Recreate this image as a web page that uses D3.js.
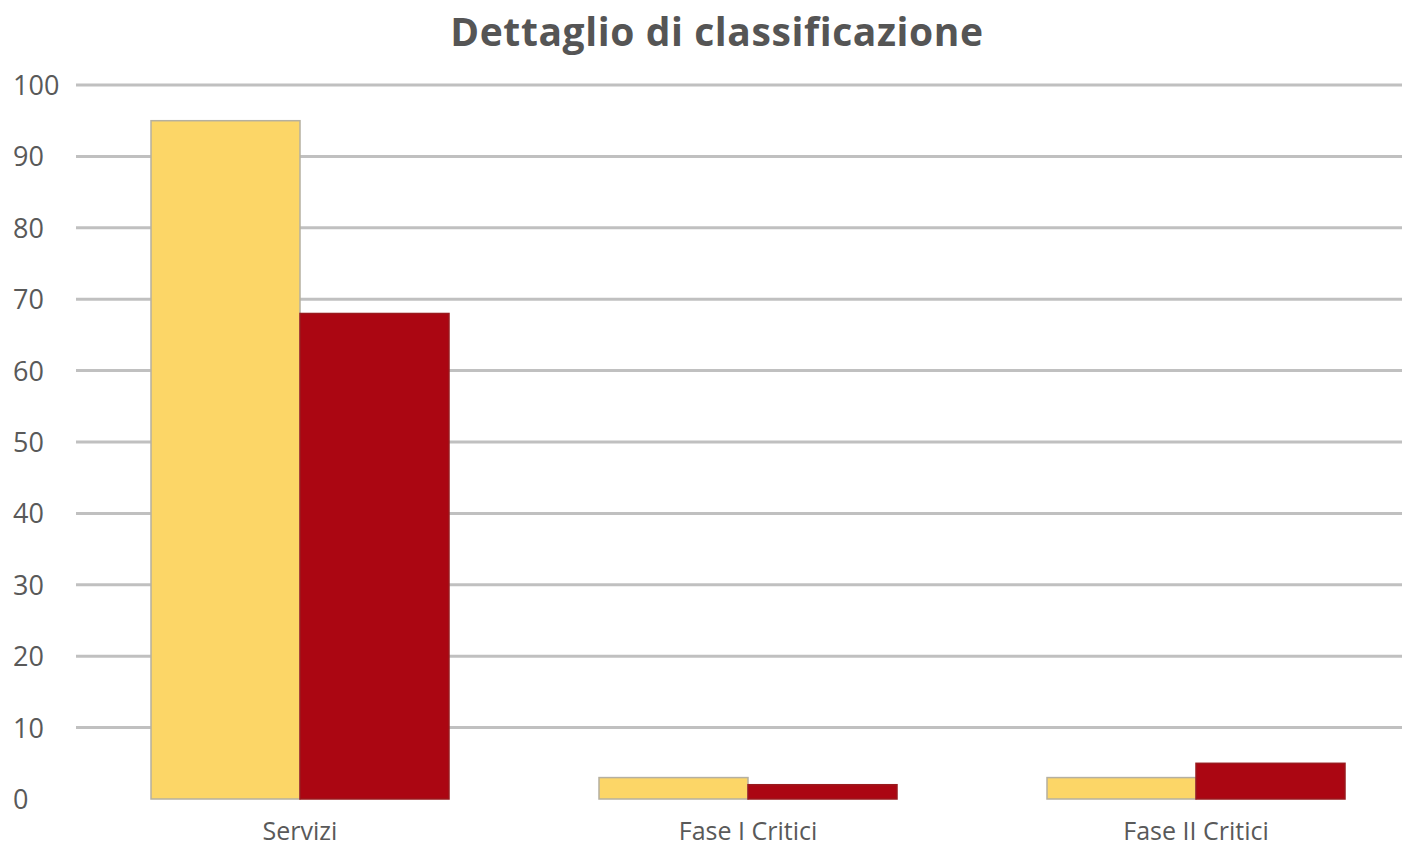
<!DOCTYPE html>
<html><head><meta charset="utf-8">
<script src="https://cdn.jsdelivr.net/npm/d3@7"></script>
<style>html,body{margin:0;padding:0;background:#fff;overflow:hidden}</style>
</head><body>
<svg id="c" width="1402" height="848"></svg>
<script>
const title = "Dettaglio di classificazione";
const categories = ["Servizi", "Fase I Critici", "Fase II Critici"];
const seriesNames = ["Serie 1", "Serie 2"];
const series1 = [95, 3, 3];
const series2 = [68, 2, 5];
const yTicks = [0, 10, 20, 30, 40, 50, 60, 70, 80, 90, 100];
const colors = ["#fcd667", "#ab0612"];

const svg = d3.select("#c");
const font = "'Open Sans', 'Liberation Sans', sans-serif";
const y = d3.scaleLinear().domain([0, 100]).range([799, 85]);
const x0 = d3.scaleBand().domain(categories).range([76, 1420]).padding(0);
const x1 = d3.scaleBand().domain(seriesNames).range([75, x0.bandwidth() - 75]).padding(0);

svg.append("text").attr("x", 717).attr("y", 46).attr("text-anchor", "middle")
  .attr("font-family", font).attr("font-weight", "bold").attr("font-size", 39)
  .attr("letter-spacing", 0.6)
  .attr("fill", "#555").text(title);

svg.append("g").selectAll("line").data(yTicks.filter(d => d > 0)).join("line")
  .attr("x1", 76).attr("x2", 1402).attr("y1", d => y(d)).attr("y2", d => y(d))
  .attr("stroke", "#c0c0c0").attr("stroke-width", 3);

svg.append("g").selectAll("text").data(yTicks).join("text")
  .attr("x", 13).attr("y", d => y(d) + 10).attr("font-family", font).attr("font-size", 27)
  .attr("fill", "#595959").text(d => d);

const data = categories.map((c, i) => ({c, vals: [series1[i], series2[i]]}));
const g = svg.append("g").selectAll("g").data(data).join("g")
  .attr("transform", d => `translate(${x0(d.c)},0)`);
g.selectAll("rect").data(d => d.vals.map((v, j) => ({v, s: seriesNames[j], j}))).join("rect")
  .attr("x", d => x1(d.s)).attr("width", x1.bandwidth())
  .attr("y", d => y(d.v)).attr("height", d => y(0) - y(d.v))
  .attr("fill", d => colors[d.j])
  .attr("stroke", d => d.j === 0 ? "#b5b0a0" : "#9a1a1e").attr("stroke-width", 1.5);

svg.append("g").selectAll("text").data(categories).join("text")
  .attr("x", d => x0(d) + x0.bandwidth() / 2).attr("y", 840).attr("text-anchor", "middle")
  .attr("font-family", font).attr("font-size", 25).attr("fill", "#595959").text(d => d);
</script>
</body></html>
